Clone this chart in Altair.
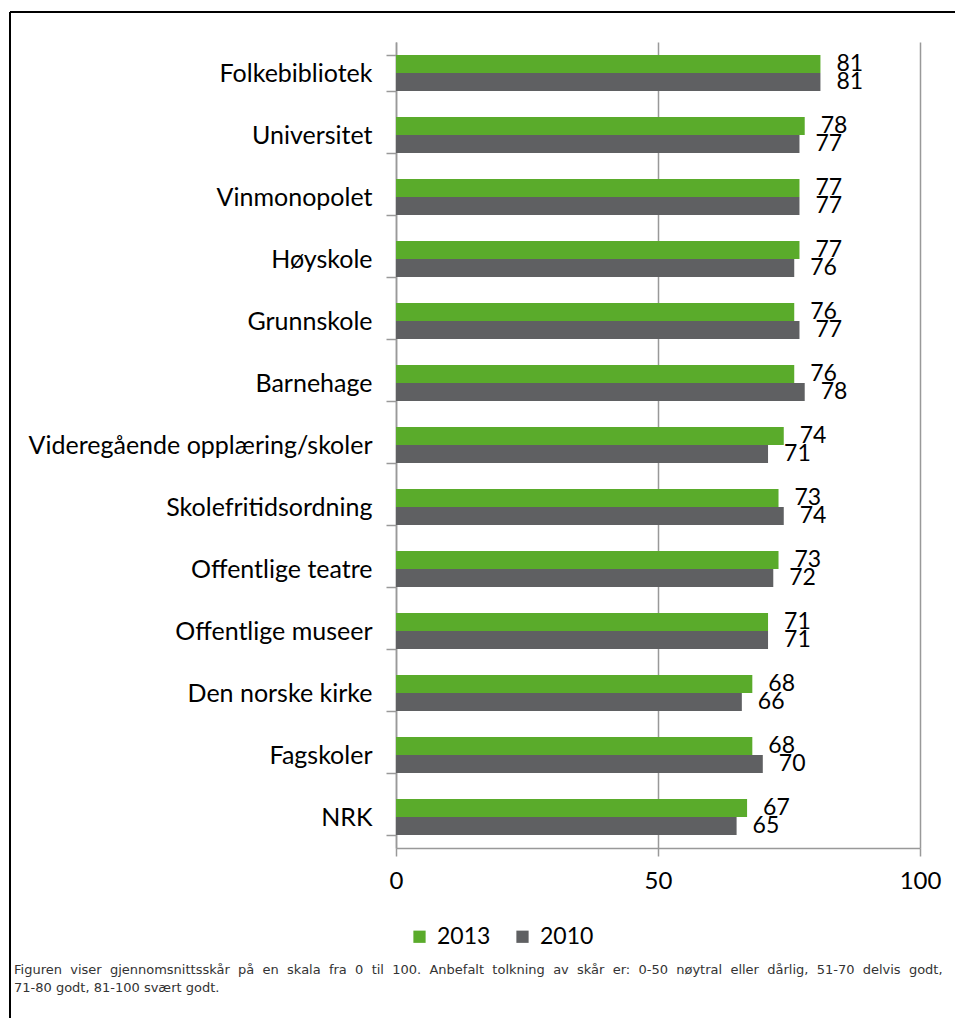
import altair as alt
import pandas as pd

categories = ["Folkebibliotek", "Universitet", "Vinmonopolet", "Høyskole", "Grunnskole",
              "Barnehage", "Videregående opplæring/skoler", "Skolefritidsordning",
              "Offentlige teatre", "Offentlige museer", "Den norske kirke", "Fagskoler", "NRK"]
values_2013 = [81, 78, 77, 77, 76, 76, 74, 73, 73, 71, 68, 68, 67]
values_2010 = [81, 77, 77, 76, 77, 78, 71, 74, 72, 71, 66, 70, 65]
series = ["2013", "2010"]
colors = ["#5aab2b", "#5f6062"]
x_ticks = [0, 50, 100]
footnote_line1 = ("Figuren viser gjennomsnittsskår på en skala fra 0 til 100. Anbefalt tolkning av skår er: "
                  "0-50 nøytral eller dårlig, 51-70 delvis godt,")
footnote_line2 = "71-80 godt, 81-100 svært godt."

rows = []
for c, a, b in zip(categories, values_2013, values_2010):
    rows.append({"kategori": c, "år": "2013", "verdi": a})
    rows.append({"kategori": c, "år": "2010", "verdi": b})
df = pd.DataFrame(rows)

# justified look of the first footnote line: widen the word gaps
line1_justified = footnote_line1.replace(" ", " \u00a0")

FONT = "Lato"
W, H = 524, 806
LEFT, TOP = 396, 42

y_enc = alt.Y("kategori:N", sort=categories,
              scale=alt.Scale(paddingInner=0.42, paddingOuter=0.21),
              axis=alt.Axis(title=None, labelFontSize=25, labelFont=FONT, labelColor="#000000",
                            labelPadding=14, tickSize=10, tickColor="#999999", tickWidth=1.5,
                            domainColor="#999999", domainWidth=1.5, tickBand="extent",
                            grid=False, labelLimit=400))
yoff = alt.YOffset("år:N", scale=alt.Scale(domain=series))
x_enc = alt.X("verdi:Q", scale=alt.Scale(domain=[0, 100], nice=False),
              axis=alt.Axis(title=None, values=x_ticks, labelFontSize=24, labelFont=FONT,
                            labelColor="#000000", labelPadding=13, tickSize=8, labelFlush=False,
                            tickColor="#999999", tickWidth=1.5, domainColor="#999999",
                            domainWidth=1.5, grid=True, gridColor="#999999", gridWidth=1.5))

color_enc = alt.Color("år:N", scale=alt.Scale(domain=series, range=colors),
                      legend=alt.Legend(title=None, orient="none", direction="horizontal",
                                        legendX=12, legendY=883, symbolType="square",
                                        symbolSize=150, symbolStrokeWidth=0, labelFontSize=23,
                                        labelFont=FONT, labelColor="#000000",
                                        columnPadding=20, labelOffset=6, padding=0))

bars = alt.Chart(df).mark_bar(opacity=1).encode(
    y=y_enc, yOffset=yoff, x=x_enc, color=color_enc
)

labels = alt.Chart(df).mark_text(align="left", baseline="middle", dx=16, fontSize=23,
                                 font=FONT, color="#000000").encode(
    y=alt.Y("kategori:N", sort=categories), yOffset=yoff, x="verdi:Q", text="verdi:Q"
)

one = pd.DataFrame({"t1": [line1_justified], "t2": [footnote_line2]})
note1 = alt.Chart(one).mark_text(align="left", baseline="middle", font="DejaVu Sans",
                                 fontSize=13, color="#333333").encode(
    x=alt.value(14 - LEFT), y=alt.value(970 - TOP), text="t1:N"
)
note2 = alt.Chart(one).mark_text(align="left", baseline="middle", font="DejaVu Sans",
                                 fontSize=13, color="#333333").encode(
    x=alt.value(14 - LEFT), y=alt.value(988 - TOP), text="t2:N"
)

frame_v = alt.Chart(one).mark_rule(color="#000000", strokeWidth=2).encode(
    x=alt.value(10 - LEFT), y=alt.value(12 - TOP), y2=alt.value(1018 - TOP)
)
frame_h = alt.Chart(one).mark_rule(color="#000000", strokeWidth=2).encode(
    x=alt.value(10 - LEFT), x2=alt.value(955 - LEFT), y=alt.value(12 - TOP)
)

chart = alt.layer(bars, labels, note1, note2, frame_v, frame_h).properties(
    width=W, height=H,
    autosize=alt.AutoSizeParams(type="none"),
    padding={"left": LEFT, "top": TOP, "right": 955 - LEFT - W, "bottom": 1018 - TOP - H},
    background="#ffffff",
).configure_view(stroke=None)

chart.save("out.html", embed_options={"renderer": "svg", "actions": False})
